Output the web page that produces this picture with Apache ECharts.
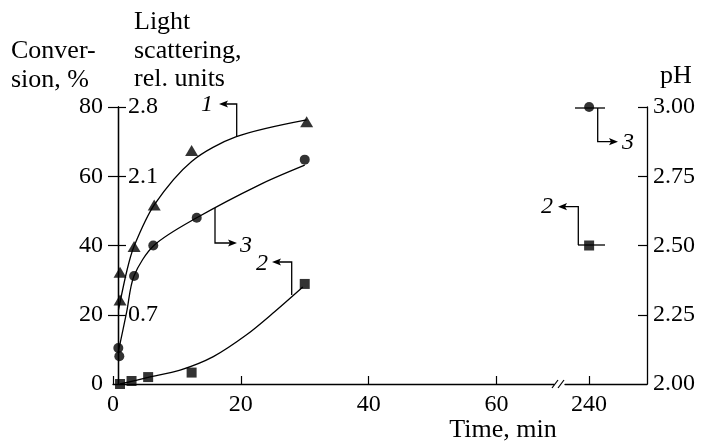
<!DOCTYPE html>
<html><head><meta charset="utf-8">
<script src="https://cdn.jsdelivr.net/npm/echarts@6/dist/echarts.min.js"></script>
<style>html,body{margin:0;padding:0;background:#fff}#c{width:701px;height:443px}</style>
</head><body><div id="c"></div>
<script>
// ---- data ----
// Curve 1: light scattering (rel. units), triangles
const lsTime  = [1.1, 1.1, 3.3, 6.45, 12.3, 30.3];
const lsValue = [0.85, 1.13, 1.39, 1.81, 2.36, 2.65];
// Curve 2: conversion (%), squares
const convTime  = [1.1, 2.9, 5.5, 12.3, 30.0];
const convValue = [0, 0.87, 2.0, 3.3, 28.9];
// Curve 3: pH, circles
const phTime  = [0.83, 0.99, 3.3, 6.3, 13.1, 30.0];
const phValue = [2.13, 2.10, 2.39, 2.50, 2.60, 2.81];
// Late points (after the axis break)
const lateTime = [240];
const lateConv = [40];
const latePH   = [3.00];
// Fitted curves (waypoints)
const lsFitTime  = [0.86, 2.19, 3.28, 6.45, 12.3, 19.3, 30.3];
const lsFitValue = [0.75, 1.15, 1.39, 1.81, 2.25, 2.50, 2.67];
const convFitTime  = [1.1, 5.5, 10.5, 15.7, 20.9, 25.0, 29.7];
const convFitValue = [0, 1.9, 4.0, 7.9, 14.2, 20.4, 28.0];
const phFitTime  = [0.86, 2.14, 3.28, 6.4, 13.1, 23.0, 30.0];
const phFitValue = [2.12, 2.26, 2.39, 2.50, 2.60, 2.72, 2.79];
// Tick labels
const timeTicks = [0, 20, 40, 60];
const lateTicks = [240];
const convTicks = [0, 20, 40, 60, 80];
const lsTicks = [0.7, 1.4, 2.1, 2.8];
const lsLabels = [0.7, 2.1, 2.8];
const phTicks = [2.25, 2.5, 2.75, 3.0];
const phLabels = [2.0, 2.25, 2.5, 2.75, 3.0];

const zip = (a, b) => a.map((v, i) => [v, b[i]]);
const FONT = '"Liberation Serif", "Times New Roman", serif';
const FS = 24;
const HS = 26;
const K = '#000';
const lbl = {color: K, fontFamily: FONT, fontSize: FS};

const chart = echarts.init(document.getElementById('c'), null, {renderer: 'canvas'});

function arrowHead(x, y, dir) {
  const L = 9, W = 3.6;
  const pts = dir === 'left'
    ? [[x, y], [x + L, y - W], [x + L - 2, y], [x + L, y + W]]
    : [[x, y], [x - L, y - W], [x - L + 2, y], [x - L, y + W]];
  return {type: 'polygon', shape: {points: pts}, style: {fill: K}, z: 100};
}
function pline(points) {
  return {type: 'polyline', shape: {points}, style: {stroke: K, lineWidth: 1.3, fill: null}, z: 100};
}
function txt(text, x, y, opts) {
  return Object.assign({type: 'text', z: 100, style: Object.assign({
    text, x, y, font: HS + 'px ' + FONT, fill: K, textAlign: 'left', textVerticalAlign: 'middle'
  }, opts || {})});
}
const italic = {font: 'italic ' + FS + 'px ' + FONT, textAlign: 'center'};

const option = {
  backgroundColor: '#fff',
  animation: false,
  grid: [
    {left: 113, top: 107, width: 441, height: 277},
    {left: 565, top: 107, width: 82, height: 277}
  ],
  xAxis: [
    {gridIndex: 0, type: 'value', min: 0, max: 69,
     axisLine: {show: true, onZero: false, lineStyle: {color: K, width: 1.3}},
     axisTick: {show: true, inside: true, length: 8, customValues: timeTicks, lineStyle: {color: K, width: 1.2}},
     axisLabel: Object.assign({customValues: timeTicks, margin: 9}, lbl),
     splitLine: {show: false}},
    {gridIndex: 1, type: 'value', min: 235, max: 252,
     axisLine: {show: true, onZero: false, lineStyle: {color: K, width: 1.3}},
     axisTick: {show: true, inside: true, length: 8, customValues: lateTicks, lineStyle: {color: K, width: 1.2}},
     axisLabel: Object.assign({customValues: lateTicks, margin: 9}, lbl),
     splitLine: {show: false}}
  ],
  yAxis: [
    {gridIndex: 0, type: 'value', min: 0, max: 80, position: 'left', offset: -5,
     axisLine: {show: true, onZero: false, lineStyle: {color: K, width: 1.3}},
     axisTick: {show: true, inside: false, length: 10, customValues: [20, 40, 60, 80], lineStyle: {color: K, width: 1.2}},
     axisLabel: Object.assign({customValues: convTicks, margin: 15}, lbl),
     splitLine: {show: false}},
    {gridIndex: 0, type: 'value', min: 0, max: 2.8, position: 'left', offset: -5,
     axisLine: {show: true, onZero: false, lineStyle: {color: K, width: 1.3}},
     axisTick: {show: true, inside: true, length: 8, customValues: lsTicks, lineStyle: {color: K, width: 1.2}},
     axisLabel: Object.assign({inside: true, customValues: lsLabels, margin: 10,
       formatter: v => Number(v).toFixed(1)}, lbl),
     splitLine: {show: false}},
    {gridIndex: 0, type: 'value', min: 2, max: 3, show: false},
    {gridIndex: 1, type: 'value', min: 2, max: 3, position: 'right',
     axisLine: {show: true, onZero: false, lineStyle: {color: K, width: 1.3}},
     axisTick: {show: true, inside: true, length: 9, customValues: phTicks, lineStyle: {color: K, width: 1.2}},
     axisLabel: Object.assign({customValues: phLabels, margin: 6,
       formatter: v => Number(v).toFixed(2)}, lbl),
     splitLine: {show: false}},
    {gridIndex: 1, type: 'value', min: 0, max: 80, show: false}
  ],
  series: [
    {type: 'line', xAxisIndex: 0, yAxisIndex: 1, data: zip(lsFitTime, lsFitValue), smooth: 0.3,
     showSymbol: false, lineStyle: {color: K, width: 1.3}, silent: true},
    {type: 'line', xAxisIndex: 0, yAxisIndex: 0, data: zip(convFitTime, convFitValue), smooth: 0.3,
     showSymbol: false, lineStyle: {color: K, width: 1.3}, silent: true},
    {type: 'line', xAxisIndex: 0, yAxisIndex: 2, data: zip(phFitTime, phFitValue), smooth: 0.3,
     showSymbol: false, lineStyle: {color: K, width: 1.3}, silent: true},
    {type: 'scatter', xAxisIndex: 0, yAxisIndex: 1, data: zip(lsTime, lsValue), symbol: 'triangle',
     symbolSize: [13, 11], itemStyle: {color: K}, clip: false, z: 5},
    {type: 'scatter', xAxisIndex: 0, yAxisIndex: 0, data: zip(convTime, convValue), symbol: 'rect',
     symbolSize: 10, itemStyle: {color: K}, clip: false, z: 5},
    {type: 'scatter', xAxisIndex: 0, yAxisIndex: 2, data: zip(phTime, phValue), symbol: 'circle',
     symbolSize: 10, itemStyle: {color: K}, clip: false, z: 5},
    {type: 'scatter', xAxisIndex: 1, yAxisIndex: 4, data: zip(lateTime, lateConv), symbol: 'rect',
     symbolSize: 10, itemStyle: {color: K}, clip: false, z: 5},
    {type: 'scatter', xAxisIndex: 1, yAxisIndex: 3, data: zip(lateTime, latePH), symbol: 'circle',
     symbolSize: 10, itemStyle: {color: K}, clip: false, z: 5}
  ],
  graphic: [
    // headers
    txt('Conver-', 11, 51),
    txt('sion, %', 11, 80),
    txt('Light', 134, 22),
    txt('scattering,', 134, 51),
    txt('rel. units', 134, 79),
    txt('pH', 676, 76, {textAlign: 'center'}),
    txt('Time, min', 503, 430, {textAlign: 'center'}),
    // axis break marks
    {type: 'line', shape: {x1: 552, y1: 388, x2: 558, y2: 380}, style: {stroke: K, lineWidth: 1.2}, z: 100},
    {type: 'line', shape: {x1: 558, y1: 388, x2: 564, y2: 380}, style: {stroke: K, lineWidth: 1.2}, z: 100},
    // label 1
    pline([[236.7, 137], [236.7, 104], [222, 104]]), arrowHead(219, 104, 'left'),
    txt('1', 207, 105, italic),
    // label 3 (left)
    pline([[215, 208], [215, 243], [233, 243]]), arrowHead(237, 243, 'right'),
    txt('3', 246, 246, italic),
    // label 2 (left)
    pline([[291.7, 295], [291.7, 262], [275, 262]]), arrowHead(272, 262, 'left'),
    txt('2', 262, 264, italic),
    // late circle (pH)
    pline([[575, 108], [605, 108]]),
    pline([[597.7, 108], [597.7, 141.7], [614, 141.7]]), arrowHead(618, 141.7, 'right'),
    txt('3', 628, 143, italic),
    // late square (conversion)
    pline([[578, 245], [605, 245]]),
    pline([[578.3, 245], [578.3, 206.7], [562, 206.7]]), arrowHead(558, 206.7, 'left'),
    txt('2', 547, 207, italic)
  ]
};
chart.setOption(option);
</script></body></html>
